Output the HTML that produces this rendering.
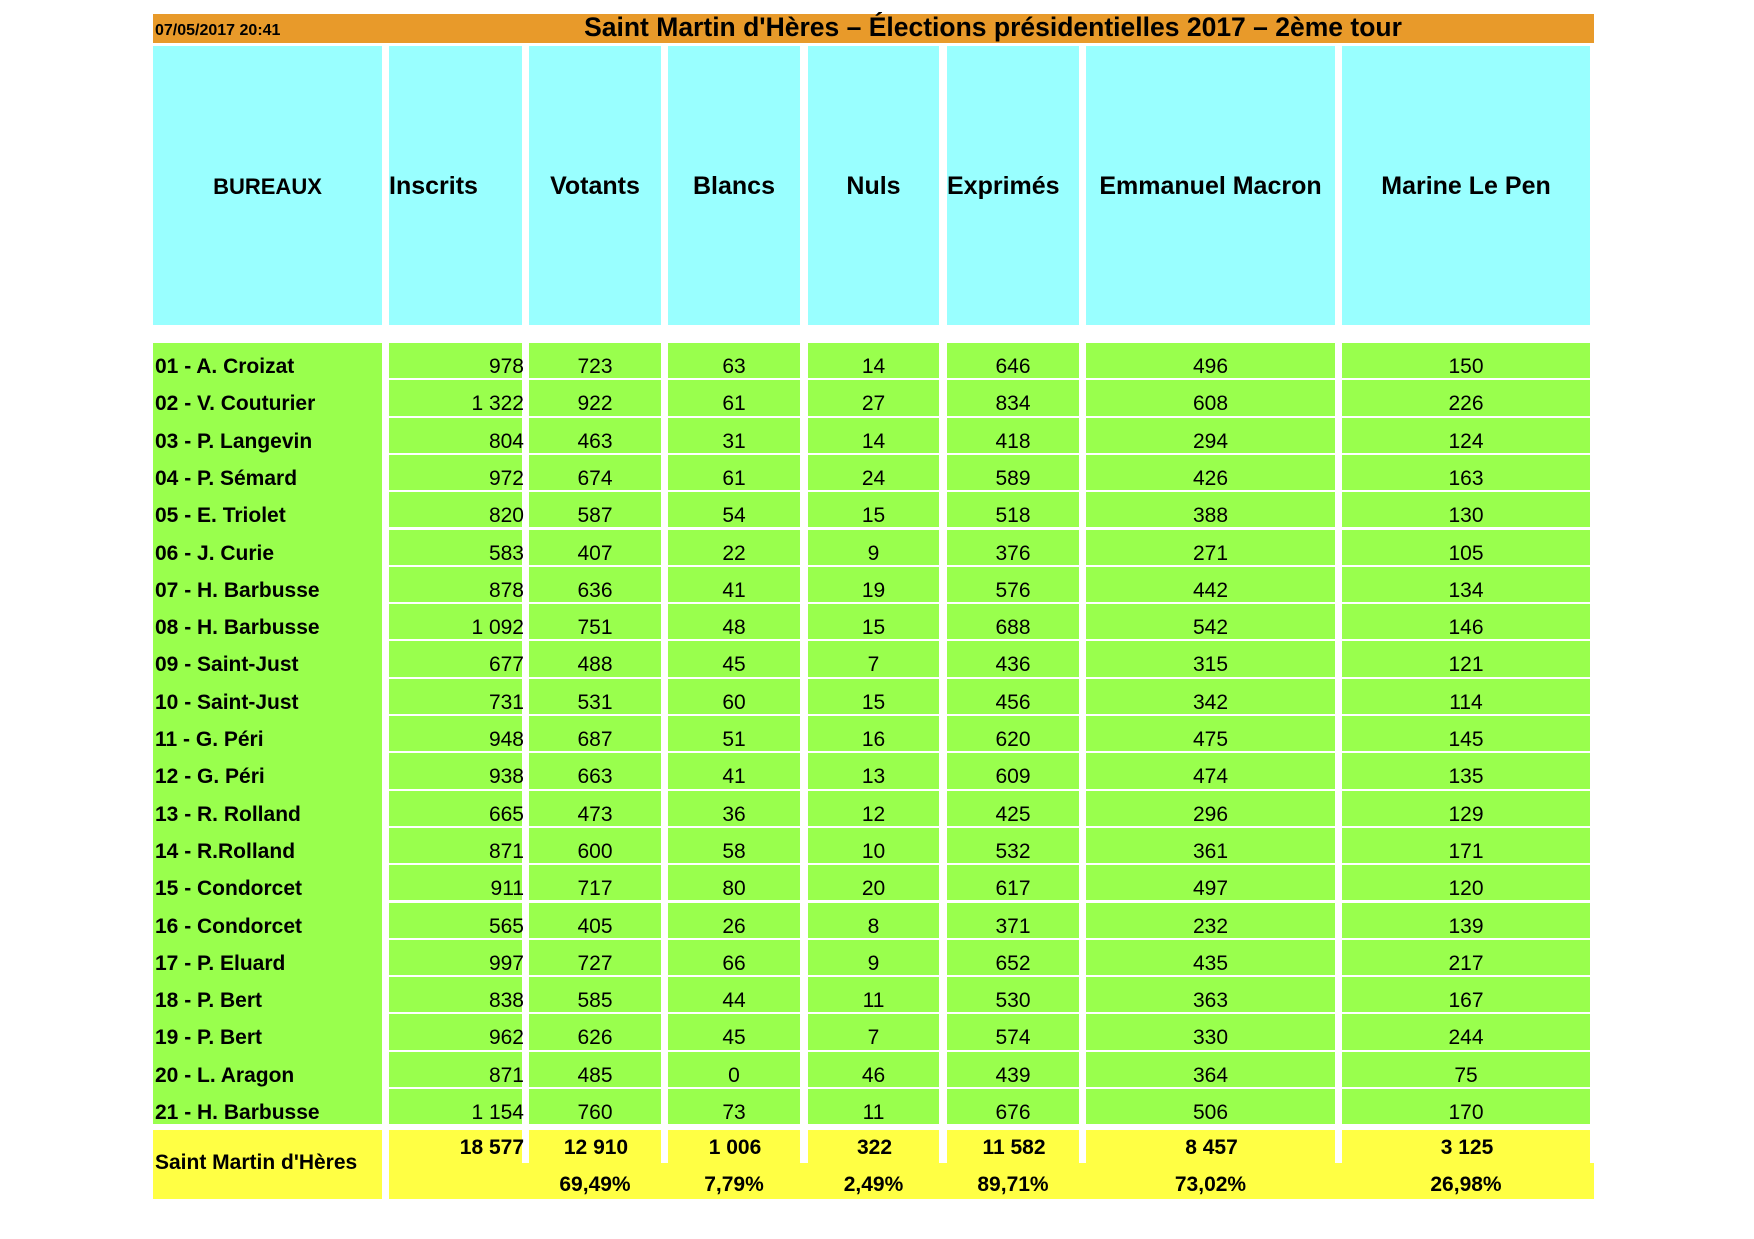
<!DOCTYPE html>
<html><head><meta charset="utf-8"><style>
*{margin:0;padding:0;box-sizing:border-box}
body{width:1754px;height:1239px;background:#fff;position:relative;overflow:hidden;font-family:"Liberation Sans",Arial,sans-serif;color:#000}
.a{position:absolute}
.t{position:absolute;white-space:nowrap}
.hd{background:#99ffff;font-weight:bold;font-size:25px;display:flex;align-items:center;justify-content:center;padding-top:2px}
.g{background:#99ff4d}
.y{background:#ffff44}
.c{font-size:21px;text-align:center;line-height:37px;padding-top:5px}
.r{font-size:21px;text-align:right;line-height:37px;padding-top:5px}
.b{font-weight:bold;font-size:21px;line-height:37px;padding-top:5px;padding-left:2px}
</style></head><body>
<div class="a" style="left:153px;top:14px;width:1441px;height:29px;background:#e89a2a"></div>
<div class="t" style="left:155px;top:22px;font-size:16px;font-weight:bold">07/05/2017 20:41</div>
<div class="t" style="left:560px;top:12px;width:866px;text-align:center;font-size:26.5px;font-weight:bold">Saint Martin d'Hères – Élections présidentielles 2017 – 2ème tour</div>
<div id="hdr"></div>
<div id="rows"></div>
<script>
var cols=[[153,382],[389,522],[529,661],[668,800],[808,939],[947,1079],[1086,1335],[1342,1590]];
var heads=["BUREAUX","Inscrits","Votants","Blancs","Nuls","Exprimés","Emmanuel Macron","Marine Le Pen"];
var h='';
for(var i=0;i<8;i++){var l=cols[i][0],w=cols[i][1]-l;
 h+='<div class="a hd" style="left:'+l+'px;top:46px;width:'+w+'px;height:279px;'+(i==1||i==5?'justify-content:flex-start;':'')+(i==0?'font-size:22px;':'')+'">'+heads[i]+'</div>';}
var data=[
["01 - A. Croizat","978","723","63","14","646","496","150"],
["02 - V. Couturier","1 322","922","61","27","834","608","226"],
["03 - P. Langevin","804","463","31","14","418","294","124"],
["04 - P. Sémard","972","674","61","24","589","426","163"],
["05 - E. Triolet","820","587","54","15","518","388","130"],
["06 - J. Curie","583","407","22","9","376","271","105"],
["07 - H. Barbusse","878","636","41","19","576","442","134"],
["08 - H. Barbusse","1 092","751","48","15","688","542","146"],
["09 - Saint-Just","677","488","45","7","436","315","121"],
["10 - Saint-Just","731","531","60","15","456","342","114"],
["11 - G. Péri","948","687","51","16","620","475","145"],
["12 - G. Péri","938","663","41","13","609","474","135"],
["13 - R. Rolland","665","473","36","12","425","296","129"],
["14 - R.Rolland","871","600","58","10","532","361","171"],
["15 - Condorcet","911","717","80","20","617","497","120"],
["16 - Condorcet","565","405","26","8","371","232","139"],
["17 - P. Eluard","997","727","66","9","652","435","217"],
["18 - P. Bert","838","585","44","11","530","363","167"],
["19 - P. Bert","962","626","45","7","574","330","244"],
["20 - L. Aragon","871","485","0","46","439","364","75"],
["21 - H. Barbusse","1 154","760","73","11","676","506","170"]];
var p=37.3,top0=343;
h+='<div class="a g" style="left:153px;top:343px;width:229px;height:781px"></div>';
for(var r=0;r<21;r++){var y=top0+r*p;
 for(var i=0;i<8;i++){var l=cols[i][0],w=cols[i][1]-l;
  if(i==0){h+='<div class="t b" style="left:'+l+'px;top:'+y+'px;height:'+p+'px">'+data[r][0]+'</div>';}
  else{h+='<div class="a g '+(i==1?'r':'c')+'" style="left:'+l+'px;top:'+y+'px;width:'+(w+(i==1?2:0))+'px;height:'+(p-2)+'px;'+(i==1?'background:none;':'')+'">'+data[r][i]+'</div>';
   if(i==1)h+='<div class="a g" style="left:'+l+'px;top:'+y+'px;width:'+w+'px;height:'+(p-2)+'px;z-index:-1"></div>';}
 }}
document.getElementById('rows').innerHTML=h;
</script>
<div class="a y" style="left:153px;top:1130px;width:229px;height:69px"></div>
<div class="t" style="left:155px;top:1151px;font-size:21px;font-weight:bold">Saint Martin d'Hères</div>
<div class="a y" style="left:389px;top:1163px;width:1205px;height:36px"></div>
<div id="tot"></div>
<script>
var tot=["18 577","12 910","1 006","322","11 582","8 457","3 125"];
var pct=["","69,49%","7,79%","2,49%","89,71%","73,02%","26,98%"];
var s='';
for(var i=1;i<8;i++){var l=cols[i][0],w=cols[i][1]-l;
 s+='<div class="a y" style="left:'+l+'px;top:1130px;width:'+w+'px;height:35px"></div>';
 s+='<div class="t" style="left:'+l+'px;top:1136px;width:'+(w+2)+'px;font-size:21px;font-weight:bold;text-align:'+(i==1?'right':'center')+'">'+tot[i-1]+'</div>';
 s+='<div class="t" style="left:'+l+'px;top:1173px;width:'+w+'px;font-size:21px;font-weight:bold;text-align:center">'+pct[i-1]+'</div>';}
document.getElementById('tot').innerHTML=s;
</script>
</body></html>
